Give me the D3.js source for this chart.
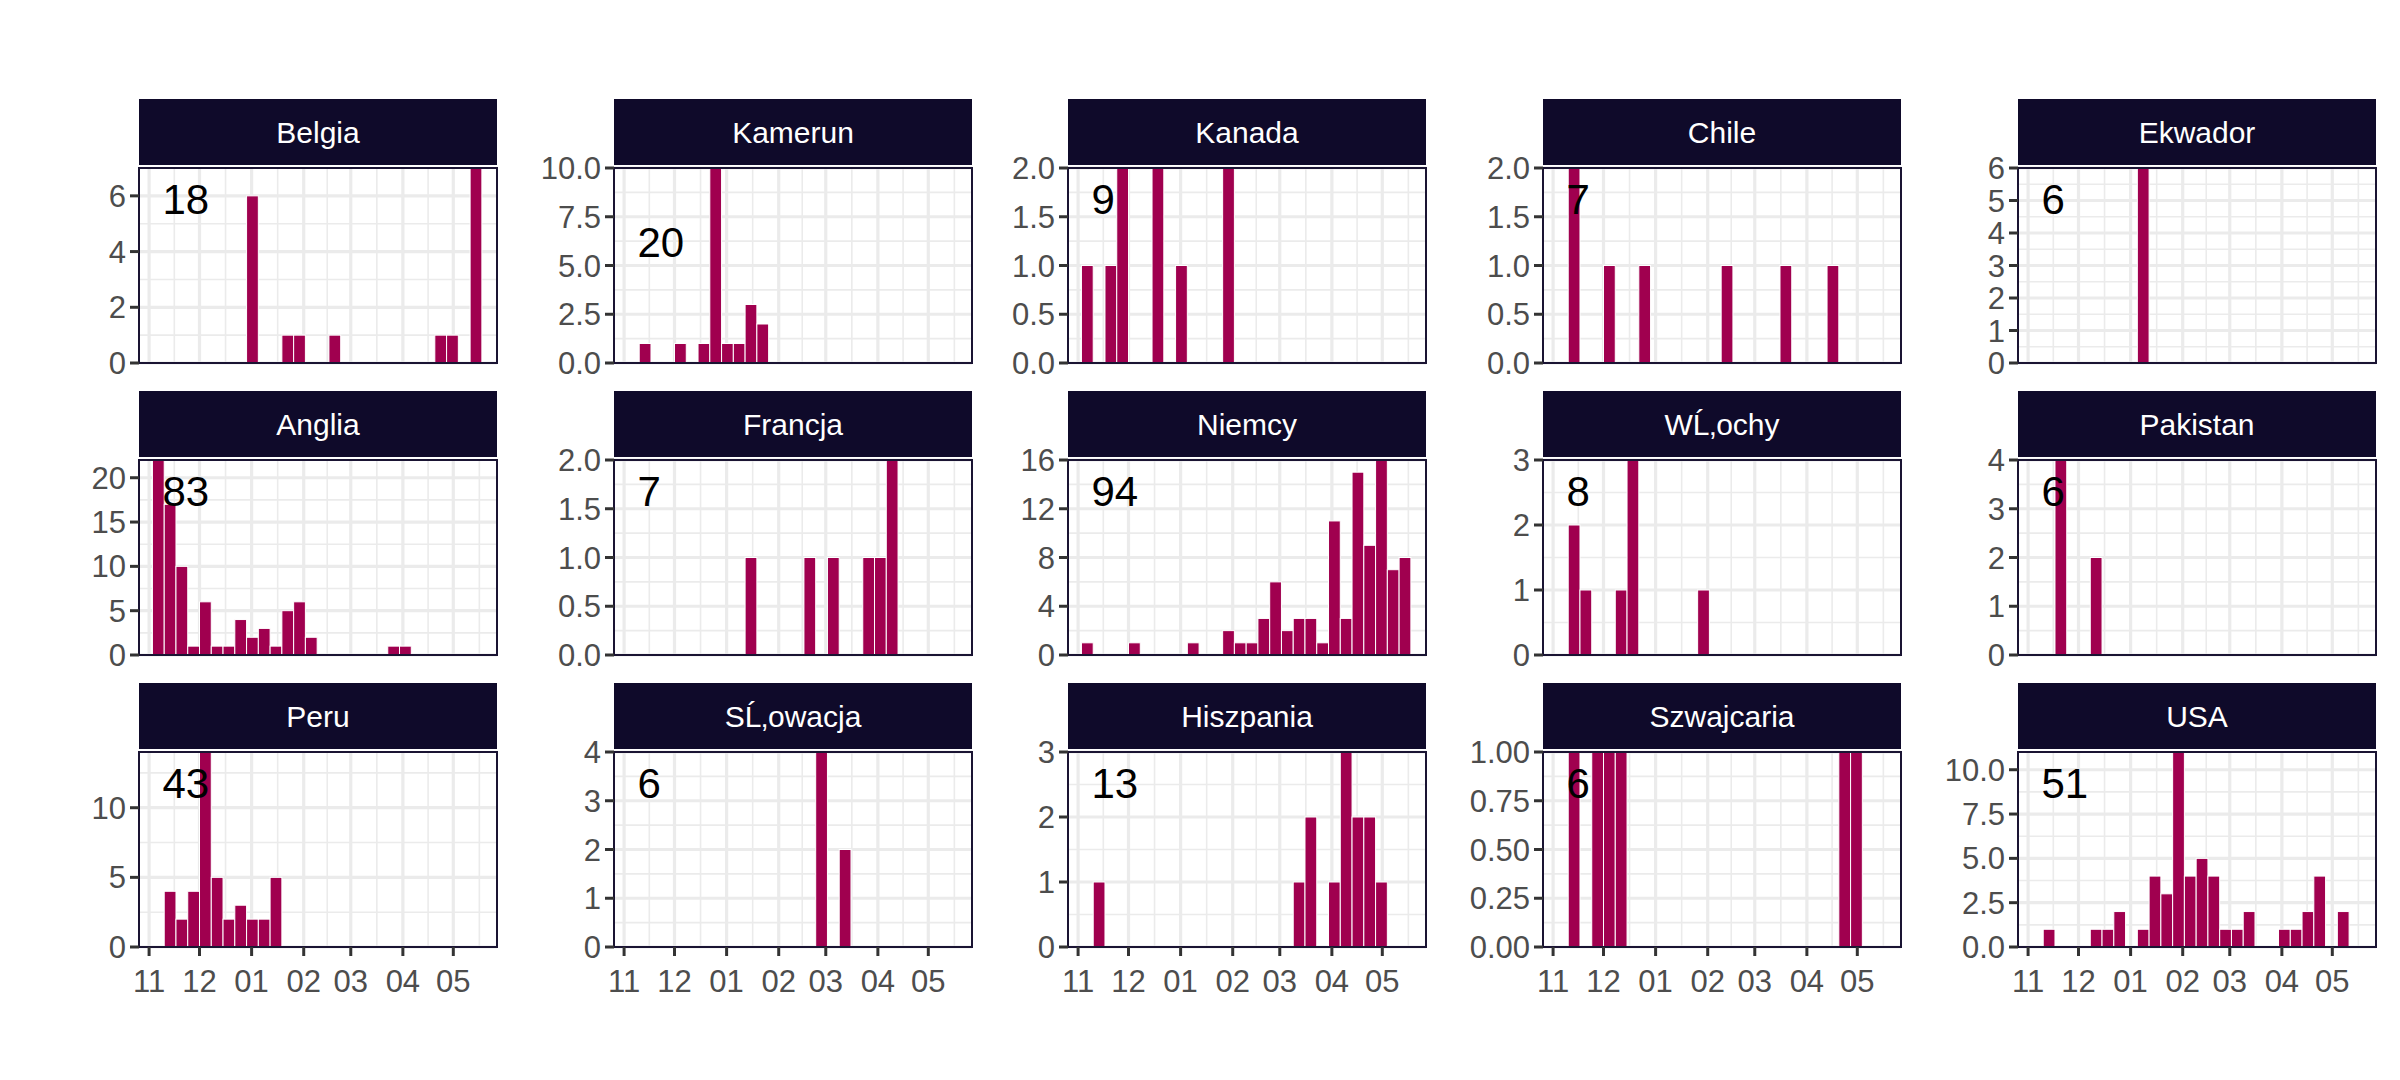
<!DOCTYPE html>
<html>
<head>
<script src="https://d3js.org/d3.v7.min.js"></script>
<style>
body { margin: 0; background: #fff; font-family: 'Liberation Sans', Arial, sans-serif; }
</style>
</head>
<body>
<svg id="chart"></svg>
<script>
// countries in facet order
var countries = ["Belgia", "Kamerun", "Kanada", "Chile", "Ekwador",
                 "Anglia", "Francja", "Niemcy", "Włochy", "Pakistan",
                 "Peru", "Słowacja", "Hiszpania", "Szwajcaria", "USA"];
// totals shown in each panel
var totals = [18, 20, 9, 7, 6, 83, 7, 94, 8, 6, 43, 6, 13, 6, 51];
// weekly counts: [week index from 2020-11-07, count]
var belgia = [[8,6],[11,1],[12,1],[15,1],[24,1],[25,1],[27,7]];
var kamerun = [[1,1],[4,1],[6,1],[7,10],[8,1],[9,1],[10,3],[11,2]];
var kanada = [[0,1],[2,1],[3,2],[6,2],[8,1],[12,2]];
var chile = [[1,2],[4,1],[7,1],[14,1],[19,1],[23,1]];
var ekwador = [[9,6]];
var anglia = [[0,22],[1,17],[2,10],[3,1],[4,6],[5,1],[6,1],[7,4],[8,2],[9,3],[10,1],[11,5],[12,6],[13,2],[20,1],[21,1]];
var francja = [[10,1],[15,1],[17,1],[20,1],[21,1],[22,2]];
var niemcy = [[0,1],[4,1],[9,1],[12,2],[13,1],[14,1],[15,3],[16,6],[17,2],[18,3],[19,3],[20,1],[21,11],[22,3],[23,15],[24,9],[25,16],[26,7],[27,8]];
var wlochy = [[1,2],[2,1],[5,1],[6,3],[12,1]];
var pakistan = [[2,4],[5,2]];
var peru = [[1,4],[2,2],[3,4],[4,14],[5,5],[6,2],[7,3],[8,2],[9,2],[10,5]];
var slowacja = [[16,4],[18,2]];
var hiszpania = [[1,1],[18,1],[19,2],[21,1],[22,3],[23,2],[24,2],[25,1]];
var szwajcaria = [[1,1],[3,1],[4,1],[5,1],[24,1],[25,1]];
var usa = [[1,1],[5,1],[6,1],[7,2],[9,1],[10,4],[11,3],[12,11],[13,4],[14,5],[15,4],[16,1],[17,1],[18,2],[21,1],[22,1],[23,2],[24,4],[26,2]];
var series = [belgia, kamerun, kanada, chile, ekwador, anglia, francja, niemcy, wlochy, pakistan, peru, slowacja, hiszpania, szwajcaria, usa];
// y axis tick labels per panel
var yTicks = [[0,2,4,6],[0,2.5,5,7.5,10],[0,0.5,1,1.5,2],[0,0.5,1,1.5,2],[0,1,2,3,4,5,6],
              [0,5,10,15,20],[0,0.5,1,1.5,2],[0,4,8,12,16],[0,1,2,3],[0,1,2,3,4],
              [0,5,10],[0,1,2,3,4],[0,1,2,3],[0,0.25,0.5,0.75,1],[0,2.5,5,7.5,10]];
var yFormat = [".0f",".1f",".1f",".1f",".0f",".0f",".1f",".0f",".0f",".0f",".0f",".0f",".0f",".2f",".1f"];
var labelFrac = [0.84,0.62,0.84,0.84,0.84,0.84,0.84,0.84,0.84,0.84,0.84,0.84,0.84,0.84,0.84];
var monthTicks = ["2020-11-01","2020-12-01","2021-01-01","2021-02-01","2021-03-01","2021-04-01","2021-05-01"];

var W = 2400, H = 1080;
var svg = d3.select("#chart").attr("width", W).attr("height", H);

var colLeft = [139, 614, 1068, 1543, 2018];
var panelW = 358;
var rowTop = [99, 391, 683];
var stripH = 66, gap = 3, panelH = 195;

var parse = d3.timeParse("%Y-%m-%d");
var week0 = parse("2020-11-07");
var xDomain = [parse("2020-10-26"), parse("2021-05-27")];
var months = monthTicks.map(parse);
var monthMinor = [];
for (var i = 0; i < months.length - 1; i++) monthMinor.push(new Date((+months[i] + +months[i+1]) / 2));
monthMinor.push(new Date(+months[6] + 15.5 * 864e5));

series.forEach(function(data, idx) {
  var col = idx % 5, row = Math.floor(idx / 5);
  var left = colLeft[col], top = rowTop[row] + stripH + gap;
  var g = svg.append("g").attr("transform", "translate(" + left + "," + top + ")");
  var x = d3.scaleTime().domain(xDomain).range([0, panelW]);
  var ymax = d3.max(data, function(d) { return d[1]; });
  var y = d3.scaleLinear().domain([0, ymax]).range([panelH, 0]);
  var ticks = yTicks[idx];

  // strip
  svg.append("rect").attr("x", left).attr("y", rowTop[row]).attr("width", panelW).attr("height", stripH)
    .attr("fill", "#0f0a2a");
  svg.append("text").attr("x", left + panelW / 2).attr("y", rowTop[row] + stripH / 2 + 11)
    .attr("text-anchor", "middle").attr("fill", "#fff").attr("font-size", 30).text(countries[idx]);

  g.append("rect").attr("width", panelW).attr("height", panelH).attr("fill", "#fff");

  // minor grid
  var yMinor = [];
  for (var j = 0; j < ticks.length - 1; j++) yMinor.push((ticks[j] + ticks[j+1]) / 2);
  var step = ticks[1] - ticks[0];
  if (ticks[ticks.length - 1] + step / 2 <= ymax) yMinor.push(ticks[ticks.length - 1] + step / 2);
  g.selectAll(".ymin").data(yMinor).enter().append("line")
    .attr("x1", 0).attr("x2", panelW).attr("y1", y).attr("y2", y)
    .attr("stroke", "#ebebeb").attr("stroke-width", 1.6);
  g.selectAll(".xmin").data(monthMinor).enter().append("line")
    .attr("x1", x).attr("x2", x).attr("y1", 0).attr("y2", panelH)
    .attr("stroke", "#ebebeb").attr("stroke-width", 1.6);
  // major grid
  g.selectAll(".ymaj").data(ticks).enter().append("line")
    .attr("x1", 0).attr("x2", panelW).attr("y1", y).attr("y2", y)
    .attr("stroke", "#ebebeb").attr("stroke-width", 3.2);
  g.selectAll(".xmaj").data(months).enter().append("line")
    .attr("x1", x).attr("x2", x).attr("y1", 0).attr("y2", panelH)
    .attr("stroke", "#ebebeb").attr("stroke-width", 3.2);

  // bars
  g.selectAll(".bar").data(data).enter().append("rect")
    .attr("x", function(d) { return x(d3.timeDay.offset(week0, d[0] * 7 - 3.5)); })
    .attr("width", function(d) { return x(d3.timeDay.offset(week0, 7)) - x(week0); })
    .attr("y", function(d) { return y(d[1]); })
    .attr("height", function(d) { return panelH - y(d[1]); })
    .attr("fill", "#a0004f").attr("stroke", "#fff").attr("stroke-width", 1);

  // total label
  g.append("text").attr("x", x(parse("2020-11-09"))).attr("y", y(ymax * labelFrac[idx]) + 15)
    .attr("font-size", 42).attr("fill", "#000").text(totals[idx]);

  // border
  g.append("rect").attr("width", panelW).attr("height", panelH).attr("fill", "none")
    .attr("stroke", "#1a1433").attr("stroke-width", 2);

  // y axis
  var fmt = d3.format(yFormat[idx]);
  g.selectAll(".yt").data(ticks).enter().append("line")
    .attr("x1", -9).attr("x2", 0).attr("y1", y).attr("y2", y)
    .attr("stroke", "#333").attr("stroke-width", 3);
  g.selectAll(".yl").data(ticks).enter().append("text")
    .attr("x", -13).attr("y", function(d) { return y(d) + 11; })
    .attr("text-anchor", "end").attr("font-size", 31).attr("fill", "#4d4d4d")
    .text(function(d) { return fmt(d); });

  // x axis on bottom row
  if (row === 2) {
    g.selectAll(".xt").data(months).enter().append("line")
      .attr("x1", x).attr("x2", x).attr("y1", panelH).attr("y2", panelH + 9)
      .attr("stroke", "#333").attr("stroke-width", 3);
    g.selectAll(".xl").data(months).enter().append("text")
      .attr("x", x).attr("y", panelH + 45).attr("text-anchor", "middle")
      .attr("font-size", 31).attr("fill", "#4d4d4d")
      .text(d3.timeFormat("%m"));
  }
});
</script>
</body>
</html>
